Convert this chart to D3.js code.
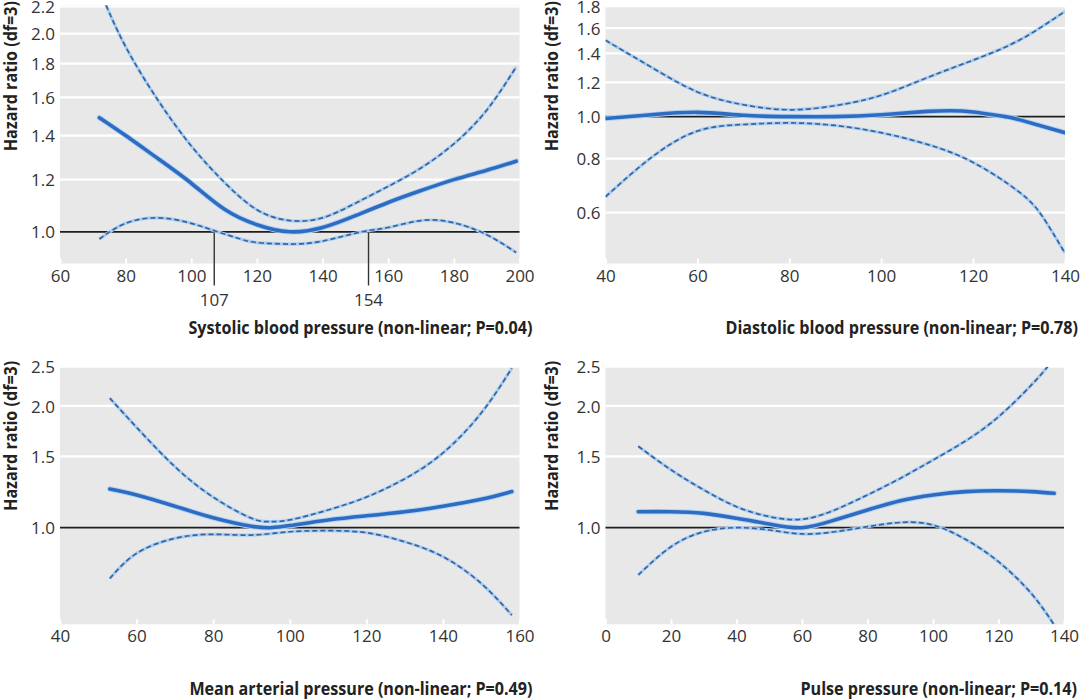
<!DOCTYPE html>
<html><head><meta charset="utf-8">
<script src="https://cdn.jsdelivr.net/npm/d3@7"></script>
<style>body{margin:0;background:#fff;} svg{display:block}</style>
</head><body><svg id="c" width="1080" height="699"></svg>
<script>
// ---------------- DATA ----------------
// Systolic blood pressure
const sbpX      = [72,80,90,100,110,120,130,140,150,160,170,180,190,199];
const sbpHR     = [1.49,1.40,1.29,1.185,1.083,1.025,1.0,1.015,1.058,1.108,1.155,1.20,1.24,1.28];
const sbpUpX    = [72,74,80,90,100,110,120,130,140,150,160,170,180,190,199];
const sbpUp     = [2.32,2.21,1.91,1.58,1.35,1.19,1.08,1.04,1.05,1.105,1.172,1.25,1.36,1.53,1.78];
const sbpLoX    = [72,80,90,100,108,115,120,130,140,152,160,170,180,190,199];
const sbpLo     = [0.975,1.03,1.05,1.03,1.0,0.975,0.963,0.958,0.968,1.0,1.015,1.04,1.032,0.99,0.93];
const sbpMarks  = [107,154];
// Diastolic blood pressure
const dbpX      = [40,50,60,70,80,90,100,110,115,120,127,130,140];
const dbpHR     = [0.99,1.01,1.023,1.007,1.0,1.0,1.01,1.028,1.032,1.025,1.0,0.984,0.918];
const dbpUpX    = [40,50,60,70,80,90,100,110,120,130,140];
const dbpUp     = [1.50,1.30,1.14,1.065,1.037,1.06,1.12,1.23,1.35,1.50,1.75];
const dbpLoX    = [40,50,60,70,80,90,100,110,120,130,135,140];
const dbpLo     = [0.653,0.805,0.926,0.959,0.967,0.954,0.918,0.863,0.784,0.67,0.59,0.484];
// Mean arterial pressure
const mapX      = [53,60,70,80,90,95,100,110,120,130,140,150,158];
const mapHR     = [1.246,1.205,1.13,1.058,1.008,1.0,1.012,1.045,1.07,1.095,1.13,1.175,1.228];
const mapUpX    = [53,60,70,80,90,95,100,110,120,130,140,150,158];
const mapUp     = [2.09,1.77,1.415,1.19,1.055,1.035,1.045,1.106,1.19,1.32,1.53,1.92,2.48];
const mapLoX    = [53,60,70,80,90,100,110,120,130,140,150,158];
const mapLo     = [0.749,0.864,0.941,0.963,0.959,0.977,0.983,0.972,0.923,0.848,0.728,0.608];
// Pulse pressure
const ppX       = [10,20,30,40,50,60,70,80,90,100,110,120,130,137];
const ppHR      = [1.095,1.095,1.085,1.055,1.021,1.0,1.045,1.106,1.166,1.205,1.228,1.234,1.228,1.216];
const ppUpX     = [10,20,30,40,50,60,70,80,90,100,110,120,130,135];
const ppUp      = [1.59,1.39,1.24,1.127,1.065,1.049,1.106,1.205,1.324,1.47,1.64,1.88,2.25,2.50];
const ppLoX     = [10,20,30,40,50,60,70,80,90,100,110,120,130,137];
const ppLo      = [0.764,0.897,0.977,1.0,0.987,0.965,0.977,1.006,1.03,1.015,0.935,0.824,0.688,0.575];

// axis domains and tick labels
const sbpXDomain = [60,200],  sbpXTicks = [60,80,100,120,140,160,180,200];
const dbpXDomain = [40,140],  dbpXTicks = [40,60,80,100,120,140];
const mapXDomain = [40,160],  mapXTicks = [40,60,80,100,120,140,160];
const ppXDomain  = [0,140],   ppXTicks  = [0,20,40,60,80,100,120,140];
const sbpYDomain = [0.895,2.21], sbpYTicks = [1.0,1.2,1.4,1.6,1.8,2.0,2.2];
const dbpYDomain = [0.458,1.81], dbpYTicks = [0.6,0.8,1.0,1.2,1.4,1.6,1.8];
const mapYDomain = [0.577,2.5],  mapYTicks = [1.0,1.5,2.0,2.5];
const ppYDomain  = [0.577,2.5],  ppYTicks  = [1.0,1.5,2.0,2.5];
const titles = ["Systolic blood pressure (non-linear; P=0.04)",
                "Diastolic blood pressure (non-linear; P=0.78)",
                "Mean arterial pressure (non-linear; P=0.49)",
                "Pulse pressure (non-linear; P=0.14)"];
const yTitle = "Hazard ratio (df=3)";

// ---------------- LAYOUT ----------------
const panels = [
  {L:60,  R:519.5, T:5,     B:263.5, xd:sbpXDomain, xt:sbpXTicks, yd:sbpYDomain, yt:sbpYTicks,
   main:[sbpX,sbpHR], up:[sbpUpX,sbpUp], lo:[sbpLoX,sbpLo], marks:sbpMarks, title:titles[0], yl:16.5},
  {L:605.5,R:1065, T:5,     B:263.5, xd:dbpXDomain, xt:dbpXTicks, yd:dbpYDomain, yt:dbpYTicks,
   main:[dbpX,dbpHR], up:[dbpUpX,dbpUp], lo:[dbpLoX,dbpLo], marks:[], title:titles[1], yl:557.5},
  {L:60,  R:519.5, T:366.7, B:624.3, xd:mapXDomain, xt:mapXTicks, yd:mapYDomain, yt:mapYTicks,
   main:[mapX,mapHR], up:[mapUpX,mapUp], lo:[mapLoX,mapLo], marks:[], title:titles[2], yl:16.5},
  {L:605.5,R:1064, T:366.7, B:624.3, xd:ppXDomain, xt:ppXTicks, yd:ppYDomain, yt:ppYTicks,
   main:[ppX,ppHR], up:[ppUpX,ppUp], lo:[ppLoX,ppLo], marks:[], title:titles[3], yl:557.5}
];

const svg = d3.select("#c");
const tickFont = "'Open Sans', 'DejaVu Sans', sans-serif";
const boldFont = "'Open Sans', 'DejaVu Sans', sans-serif";
const fmt = d3.format(".1f");
const TS = 17;     // tick font size
const BS = 17.5;   // bold label font size

// condensing factor for bold labels
const probe = svg.append("text").attr("font-family", boldFont).attr("font-weight", 700)
  .attr("font-size", BS).text(titles[0]);
const natural = probe.node().getComputedTextLength();
probe.remove();
const k = 344 / natural;

panels.forEach((p, i) => {
  const g = svg.append("g");
  const x = d3.scaleLinear().domain(p.xd).range([p.L, p.R]);
  const y = d3.scaleLog().domain(p.yd).range([p.B, p.T]);
  const clipId = "clip" + i;
  svg.append("clipPath").attr("id", clipId).append("rect")
    .attr("x", p.L).attr("y", p.T).attr("width", p.R - p.L).attr("height", p.B - p.T);

  g.append("rect").attr("x", p.L).attr("y", p.T).attr("width", p.R - p.L)
    .attr("height", p.B - p.T).attr("fill", "#e8e8e8");

  // white gridlines
  g.append("g").selectAll("line").data(p.yt.filter(v => v !== 1.0)).join("line")
    .attr("x1", p.L).attr("x2", p.R).attr("y1", d => y(d)).attr("y2", d => y(d))
    .attr("stroke", "#fff").attr("stroke-width", 2.2);

  // x axis (white ticks into the plot, labels below)
  const xa = g.append("g").attr("transform", `translate(0,${p.B})`)
    .call(d3.axisBottom(x).tickValues(p.xt).tickSizeInner(-5).tickSizeOuter(0).tickPadding(6).tickFormat(d3.format("d")));
  xa.select(".domain").remove();
  xa.selectAll(".tick line").attr("stroke", "#fff").attr("stroke-width", 2);
  xa.selectAll(".tick text").attr("font-family", tickFont).attr("font-size", TS).attr("fill", "#333");

  // y axis labels
  const ya = g.append("g").attr("transform", `translate(${p.L},0)`)
    .call(d3.axisLeft(y).tickValues(p.yt).tickSize(0).tickPadding(5).tickFormat(fmt));
  ya.select(".domain").remove();
  ya.selectAll(".tick text").attr("font-family", tickFont).attr("font-size", TS).attr("fill", "#333").attr("dy", "0.36em");

  // reference line at HR = 1
  g.append("line").attr("x1", p.L).attr("x2", p.R).attr("y1", y(1)).attr("y2", y(1))
    .attr("stroke", "#1e1e1e").attr("stroke-width", 1.8);

  // markers
  p.marks.forEach(m => {
    g.append("line").attr("x1", x(m)).attr("x2", x(m)).attr("y1", y(1)).attr("y2", p.B + 22)
      .attr("stroke", "#333").attr("stroke-width", 1.4);
    g.append("text").attr("x", x(m)).attr("y", p.B + 42).attr("text-anchor", "middle")
      .attr("font-family", tickFont).attr("font-size", TS).attr("fill", "#333").text(m);
  });

  const line = d3.line().x(d => x(d[0])).y(d => y(d[1])).curve(d3.curveNatural);
  const pts = a => a[0].map((v, j) => [v, a[1][j]]);
  const cg = g.append("g").attr("clip-path", `url(#${clipId})`);
  [p.up, p.lo].forEach(s => {
    cg.append("path").attr("d", line(pts(s))).attr("fill", "none")
      .attr("stroke", "#a9cdf1").attr("stroke-width", 3.2);
    cg.append("path").attr("d", line(pts(s))).attr("fill", "none")
      .attr("stroke", "#35649f").attr("stroke-width", 1.7).attr("stroke-dasharray", "5,3");
  });
  cg.append("path").attr("d", line(pts(p.main))).attr("fill", "none")
    .attr("stroke", "#b3d4f4").attr("stroke-width", 5.5).attr("stroke-linecap", "round");
  cg.append("path").attr("d", line(pts(p.main))).attr("fill", "none")
    .attr("stroke", "#2e6cc2").attr("stroke-width", 3.6).attr("stroke-linecap", "round");

  // x title
  const t = g.append("text").attr("font-family", boldFont).attr("font-weight", 700)
    .attr("font-size", BS).attr("fill", "#222").text(p.title);
  const w = t.node().getComputedTextLength() * k;
  t.attr("textLength", w).attr("lengthAdjust", "spacingAndGlyphs")
    .attr("x", p.R + 13 - w).attr("y", p.B + 70.5);

  // y title
  const yt = g.append("text").attr("font-family", boldFont).attr("font-weight", 700)
    .attr("font-size", BS).attr("fill", "#222").text(yTitle);
  const yw = yt.node().getComputedTextLength() * k;
  yt.attr("textLength", yw).attr("lengthAdjust", "spacingAndGlyphs")
    .attr("transform", `translate(${p.yl},${Math.max(p.T - 6, 1) + yw}) rotate(-90)`);
});
</script></body></html>
